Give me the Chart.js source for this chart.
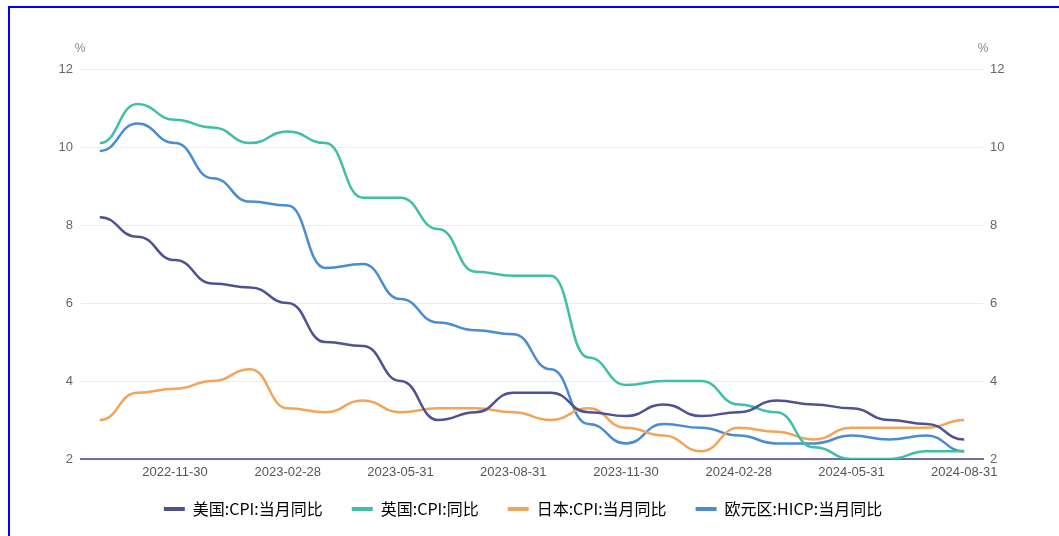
<!DOCTYPE html>
<html>
<head>
<meta charset="utf-8">
<script src="https://cdn.jsdelivr.net/npm/chart.js@4"></script>
<style>
  html, body { margin: 0; padding: 0; background: #fff; overflow: hidden; }
  #wrap { position: relative; width: 1059px; height: 536px; }
  #frame {
    position: absolute; left: 8px; top: 6px; width: 1200px; height: 700px;
    border-left: 2px solid #0000ff; border-top: 2px solid #0000ff;
    pointer-events: none;
  }
</style>
</head>
<body>
<div id="wrap">
  <canvas id="cpi-chart"></canvas>
  <div id="frame"></div>
</div>
<script>
/* month-end dates, Sep 2022 .. Aug 2024 */
const months = [
  "2022-09-30", "2022-10-31", "2022-11-30", "2022-12-31",
  "2023-01-31", "2023-02-28", "2023-03-31", "2023-04-30",
  "2023-05-31", "2023-06-30", "2023-07-31", "2023-08-31",
  "2023-09-30", "2023-10-31", "2023-11-30", "2023-12-31",
  "2024-01-31", "2024-02-28", "2024-03-31", "2024-04-30",
  "2024-05-31", "2024-06-30", "2024-07-31", "2024-08-31"
];

const usCpi = [8.2, 7.7, 7.1, 6.5, 6.4, 6.0, 5.0, 4.9, 4.0, 3.0, 3.2, 3.7,
               3.7, 3.2, 3.1, 3.4, 3.1, 3.2, 3.5, 3.4, 3.3, 3.0, 2.9, 2.5];
const ukCpi = [10.1, 11.1, 10.7, 10.5, 10.1, 10.4, 10.1, 8.7, 8.7, 7.9, 6.8, 6.7,
               6.7, 4.6, 3.9, 4.0, 4.0, 3.4, 3.2, 2.3, 2.0, 2.0, 2.2, 2.2];
const jpCpi = [3.0, 3.7, 3.8, 4.0, 4.3, 3.3, 3.2, 3.5, 3.2, 3.3, 3.3, 3.2,
               3.0, 3.3, 2.8, 2.6, 2.2, 2.8, 2.7, 2.5, 2.8, 2.8, 2.8, 3.0];
const euHicp = [9.9, 10.6, 10.1, 9.2, 8.6, 8.5, 6.9, 7.0, 6.1, 5.5, 5.3, 5.2,
                4.3, 2.9, 2.4, 2.9, 2.8, 2.6, 2.4, 2.4, 2.6, 2.5, 2.6, 2.2];

const seriesNames = ["美国:CPI:当月同比", "英国:CPI:同比", "日本:CPI:当月同比", "欧元区:HICP:当月同比"];
const seriesColors = ["#4f5290", "#3fbfa6", "#f2a55a", "#4a8bd2"];
const yTicks = [2, 4, 6, 8, 10, 12];

// flat tangents at every knot -> the "step then glide" look of the curves
const KNOT_SPREAD = 0.5;
const flatKnots = {
  id: "flatKnots",
  beforeDatasetDraw(chart, args) {
    const meta = args.meta;
    meta.dataset.updateControlPoints(chart.chartArea, "x");
    const pts = meta.data;
    pts.forEach((p, i) => {
      const prev = pts[i - 1];
      const next = pts[i + 1];
      p.cp1x = prev ? p.x - (p.x - prev.x) * KNOT_SPREAD : p.x;
      p.cp1y = p.y;
      p.cp2x = next ? p.x + (next.x - p.x) * KNOT_SPREAD : p.x;
      p.cp2y = p.y;
    });
  }
};

// "%" unit marks above both value axes
const unitMarks = {
  id: "unitMarks",
  afterDraw(chart) {
    const { ctx, chartArea } = chart;
    ctx.save();
    ctx.font = "12px 'Liberation Sans', Arial, sans-serif";
    ctx.fillStyle = "#888";
    ctx.textAlign = "center";
    ctx.textBaseline = "middle";
    ctx.fillText("%", chartArea.left - 1, 49);
    ctx.fillText("%", chartArea.right, 49);
    ctx.restore();
  }
};

const dataSets = [usCpi, ukCpi, jpCpi, euHicp].map((values, i) => ({
  label: seriesNames[i],
  data: values,
  borderColor: seriesColors[i],
  backgroundColor: seriesColors[i],
  borderWidth: 2.5,
  pointRadius: 0,
  pointHoverRadius: 0,
  tension: 0.4,
  fill: false,
  yAxisID: "y"
}));

const tickFont = { family: "'Liberation Sans', Arial, sans-serif", size: 13 };

new Chart(document.getElementById("cpi-chart"), {
  type: "line",
  data: { labels: months, datasets: dataSets },
  plugins: [flatKnots, unitMarks],
  options: {
    responsive: true,
    maintainAspectRatio: false,
    animation: false,
    layout: { padding: { top: 69, left: 0, right: 13, bottom: 9 } },
    plugins: {
      tooltip: { enabled: false },
      legend: {
        position: "bottom",
        labels: {
          boxWidth: 21,
          boxHeight: 4,
          padding: 29,
          color: "#333",
          font: { family: "'Noto Sans CJK SC', sans-serif", size: 16 },
          generateLabels(chart) {
            return chart.data.datasets.map((ds, i) => ({
              text: ds.label,
              fillStyle: ds.borderColor,
              strokeStyle: ds.borderColor,
              lineWidth: 0,
              hidden: false,
              datasetIndex: i
            }));
          }
        }
      }
    },
    scales: {
      x: {
        offset: true,
        grid: { display: false, drawTicks: false },
        border: { display: true, color: "#6f6f9e", width: 2 },
        ticks: {
          autoSkip: false,
          maxRotation: 0,
          // mirrored with a negative gap: labels sit below the thin axis band, unclipped
          mirror: true,
          padding: -21,
          color: "#555",
          font: tickFont,
          callback(value, index) {
            return index % 3 === 2 ? months[index] : "";
          }
        },
        afterFit(scale) { scale.height = 13; }
      },
      y: {
        position: "left",
        min: 2,
        max: 12,
        afterBuildTicks(scale) { scale.ticks = yTicks.map(v => ({ value: v })); },
        grid: { color: "#ececec", drawTicks: false },
        border: { display: false },
        ticks: { padding: 8, color: "#666", font: tickFont },
        afterFit(scale) { scale.width = 81; }
      },
      y1: {
        position: "right",
        min: 2,
        max: 12,
        afterBuildTicks(scale) { scale.ticks = yTicks.map(v => ({ value: v })); },
        grid: { display: false, drawTicks: false },
        border: { display: false },
        ticks: { padding: 7, color: "#666", font: tickFont },
        afterFit(scale) { scale.width = 63; }
      }
    }
  }
});
</script>
</body>
</html>
